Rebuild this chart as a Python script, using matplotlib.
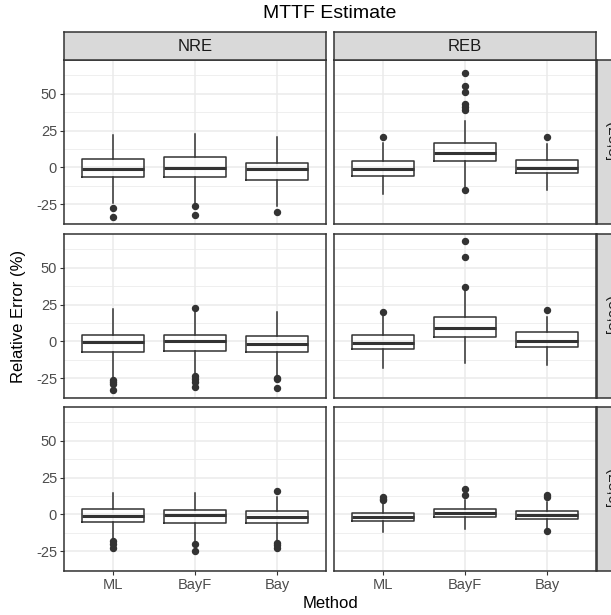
import matplotlib
matplotlib.use("Agg")
import matplotlib.pyplot as plt
import numpy as np

plt.rcParams['font.family'] = ['Liberation Sans', 'DejaVu Sans']

methods = ["ML", "BayF", "Bay"]
schemes = ["NRE", "REB"]
settings = ["(25,3]", "(50,3]", "(25,6]"]

# [setting][scheme][method]
whis_lo = [[[-23.9, -24.0, -26.0], [-18.0, -13.5, -15.3]],
           [[-24.3, -22.1, -23.2], [-18.3, -14.7, -16.0]],
           [[-16.6, -18.2, -18.2], [-11.8, -10.2, -9.1]]]
q1 = [[[-6.5, -6.5, -8.8], [-5.6, 4.3, -4.1]],
      [[-7.2, -6.8, -7.4], [-5.4, 2.9, -4.1]],
      [[-5.4, -5.7, -5.9], [-4.4, -2.0, -3.4]]]
medians = [[[-0.9, -0.7, -1.1], [-0.9, 9.5, -0.5]],
           [[-0.7, 0.0, -2.0], [-1.1, 8.8, 0.0]],
           [[-1.1, -0.7, -1.6], [-1.6, 1.1, -0.3]]]
q3 = [[[5.9, 6.8, 3.2], [4.5, 16.7, 5.2]],
      [[4.7, 4.5, 3.9], [4.1, 16.3, 6.3]],
      [[3.4, 2.9, 2.5], [0.7, 3.9, 2.0]]]
whis_hi = [[[22.3, 23.0, 20.7], [16.7, 31.5, 16.2]],
           [[21.7, 20.8, 19.9], [17.2, 34.4, 16.7]],
           [[14.7, 14.7, 11.8], [7.2, 9.8, 8.4]]]
outliers = [[[[-27.7, -33.3], [-26.4, -32.0], [-30.0]],
             [[20.9], [-15.0, 38.7, 41.0, 43.0, 51.0, 55.0, 64.0], [20.9]]],
            [[[-26.0, -27.6, -28.8, -32.7], [22.6, -23.5, -25.3, -27.6, -31.0], [-24.8, -25.8, -31.6]],
             [[20.1], [36.6, 57.0, 67.8], [21.0]]],
            [[[-18.2, -20.0, -22.7], [-20.0, -24.5], [16.1, -19.3, -20.9, -22.9]],
             [[9.5, 10.6, 12.0], [13.1, 17.4], [11.6, 13.1, -11.4]]]]

yticks = [-25, 0, 25, 50]
yminor = [-37.5, -12.5, 12.5, 37.5, 62.5]

# y range: data range with 5% expansion (shared)
all_vals = []
for r in range(3):
    for c in range(2):
        for m in range(3):
            all_vals += [whis_lo[r][c][m], whis_hi[r][c][m]] + outliers[r][c][m]
dmin, dmax = min(all_vals), max(all_vals)
pad = 0.05 * (dmax - dmin)
ylim = (dmin - pad, dmax + pad)

W, H = 611, 615
fig = plt.figure(figsize=(W / 100, H / 100), dpi=100)

col_x = [(64, 326), (334, 596)]
row_y = [(60, 224), (234, 398), (407, 571)]
strip_h = 28

dark = "#333333"
grid_major = "#EBEBEB"
strip_bg = "#D9D9D9"
tick_col = "#4D4D4D"

def fx(px):
    return px / W

def fy(py):
    return 1 - py / H

for r in range(3):
    for c in range(2):
        x0, x1 = col_x[c]
        y0, y1 = row_y[r]
        ax = fig.add_axes([fx(x0), fy(y1), fx(x1 - x0), (y1 - y0) / H])
        stats = []
        for m in range(3):
            stats.append(dict(med=medians[r][c][m], q1=q1[r][c][m], q3=q3[r][c][m],
                              whislo=whis_lo[r][c][m], whishi=whis_hi[r][c][m],
                              fliers=outliers[r][c][m], label=methods[m]))
        ax.bxp(stats, positions=[1, 2, 3], widths=0.75, showfliers=True,
               boxprops=dict(color=dark, linewidth=1.1),
               medianprops=dict(color=dark, linewidth=2.2),
               whiskerprops=dict(color=dark, linewidth=1.1),
               capprops=dict(linewidth=0),
               flierprops=dict(marker='o', markerfacecolor=dark, markeredgecolor=dark,
                               markersize=4.3, linestyle='none'),
               showcaps=False)
        ax.set_xlim(0.4, 3.6)
        ax.set_ylim(*ylim)
        ax.set_yticks(yticks)
        ax.set_yticks(yminor, minor=True)
        ax.set_xticks([1, 2, 3])
        ax.grid(True, which='major', color=grid_major, linewidth=1.1, zorder=0)
        ax.grid(True, which='minor', axis='y', color=grid_major, linewidth=0.55, zorder=0)
        ax.set_axisbelow(True)
        for s in ax.spines.values():
            s.set_color(dark)
            s.set_linewidth(1.1)
        ax.tick_params(which='major', length=3, width=0.8, color=dark, labelcolor=tick_col,
                       labelsize=10.5, pad=2)
        ax.tick_params(which='minor', length=0)
        if c == 0:
            ax.set_yticklabels([str(t) for t in yticks])
        else:
            ax.tick_params(axis='y', labelleft=False, length=0)
        if r == 2:
            ax.set_xticklabels(methods)
        else:
            ax.tick_params(axis='x', labelbottom=False, length=0)

        # top strip
        if r == 0:
            sax = fig.add_axes([fx(x0), fy(y0), fx(x1 - x0), strip_h / H])
            sax.set_facecolor(strip_bg)
            sax.set_xticks([]); sax.set_yticks([])
            for s in sax.spines.values():
                s.set_color(dark); s.set_linewidth(1.1)
            sax.text(0.5, 0.47, schemes[c], ha='center', va='center', fontsize=12,
                     color="#1A1A1A", transform=sax.transAxes)
        # right strip
        if c == 1:
            rax = fig.add_axes([fx(x1 + 1), fy(y1), strip_h / W, (y1 - y0) / H])
            rax.set_facecolor(strip_bg)
            rax.set_xticks([]); rax.set_yticks([])
            for s in rax.spines.values():
                s.set_color(dark); s.set_linewidth(1.1)
            rax.text(0.5, 0.5, settings[r], ha='center', va='center', fontsize=11,
                     rotation=-90, color="#1A1A1A", transform=rax.transAxes)

fig.text(fx(330), fy(13), "MTTF Estimate", ha='center', va='center', fontsize=14, color='black')
fig.text(fx(330), fy(603), "Method", ha='center', va='center', fontsize=12, color='black')
fig.text(fx(19), fy(316), "Relative Error (%)", ha='center', va='center', fontsize=12,
         rotation=90, color='black')

fig.savefig("out.png", dpi=100)
